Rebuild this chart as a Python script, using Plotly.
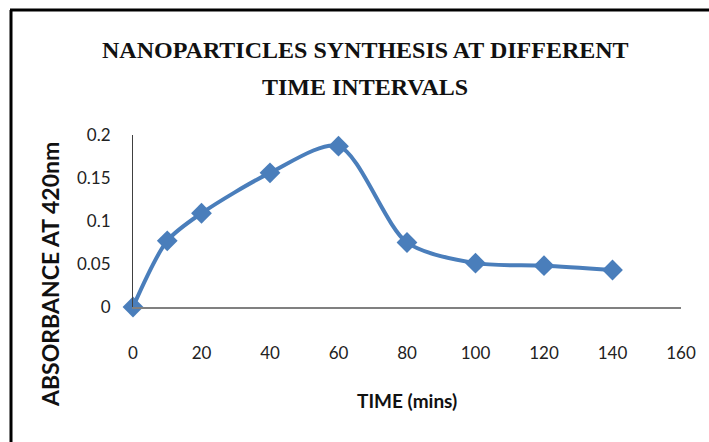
import plotly.graph_objects as go

# Data
time_mins = [0, 10, 20, 40, 60, 80, 100, 120, 140]
absorbance = [0.0, 0.077, 0.109, 0.156, 0.187, 0.075, 0.051, 0.048, 0.043]
x_ticks = [0, 20, 40, 60, 80, 100, 120, 140, 160]
y_ticks = [0, 0.05, 0.1, 0.15, 0.2]
y_ticklabels = ["0", "0.05", "0.1", "0.15", "0.2"]

title_line1 = "NANOPARTICLES SYNTHESIS AT DIFFERENT"
title_line2 = "TIME INTERVALS"
y_title = "ABSORBANCE AT 420nm"
x_title = "TIME (mins)"

W, H = 709, 442
ML, MR, MT, MB = 133, 28, 135, 135
PW = W - ML - MR
PH = H - MT - MB

def px(xp):
    return (xp - ML) / PW

def py(yp):
    return (H - MB - yp) / PH

fig = go.Figure()
fig.add_trace(go.Scatter(
    x=time_mins, y=absorbance, mode="lines+markers",
    line=dict(color="#4a7ebb", width=4, shape="spline", smoothing=0.8),
    marker=dict(symbol="diamond", size=16, color="#4a7ebb"),
    showlegend=False, cliponaxis=False,
))

tick_font = dict(family="Lato, Carlito, sans-serif", size=17, color="#222222")
fig.update_layout(
    width=W, height=H,
    margin=dict(l=ML, r=MR, t=MT, b=MB),
    paper_bgcolor="white", plot_bgcolor="white",
    xaxis=dict(range=[0, 160], tickvals=x_ticks, showgrid=False, zeroline=False,
               showline=True, linecolor="#808080", linewidth=2, ticks="",
               tickfont=tick_font, ticklabelstandoff=30, fixedrange=True),
    yaxis=dict(range=[0, 0.2], tickvals=y_ticks, ticktext=y_ticklabels, showgrid=False,
               zeroline=False, showline=True, linecolor="#404040", linewidth=1, ticks="",
               tickfont=tick_font, ticklabelstandoff=18, fixedrange=True),
)

title_font = dict(family="Liberation Serif, Times New Roman, serif", size=24, color="#111111", weight="bold")
fig.add_annotation(text="<b>" + title_line1 + "</b>", x=px(365), y=py(50), xref="paper", yref="paper",
                   showarrow=False, font=title_font, xanchor="center", yanchor="middle")
fig.add_annotation(text="<b>" + title_line2 + "</b>", x=px(365), y=py(87), xref="paper", yref="paper",
                   showarrow=False, font=title_font, xanchor="center", yanchor="middle")
fig.add_annotation(text="<b>" + y_title + "</b>", x=px(50), y=py(275), xref="paper", yref="paper",
                   showarrow=False, textangle=-90, xanchor="center", yanchor="middle",
                   font=dict(family="Lato, sans-serif", size=23, color="#111111"))
fig.add_annotation(text="<b>" + x_title + "</b>", x=px(407), y=py(400), xref="paper", yref="paper",
                   showarrow=False, xanchor="center", yanchor="middle",
                   font=dict(family="Lato, sans-serif", size=19, color="#111111"))

# outer frame (left and top edges)
fig.add_shape(type="line", xref="paper", yref="paper", x0=px(11), x1=px(11), y0=py(10), y1=py(H + 5),
              line=dict(color="black", width=3))
fig.add_shape(type="line", xref="paper", yref="paper", x0=px(10), x1=px(W + 5), y0=py(10), y1=py(10),
              line=dict(color="black", width=3))

fig.write_html("out.html")
